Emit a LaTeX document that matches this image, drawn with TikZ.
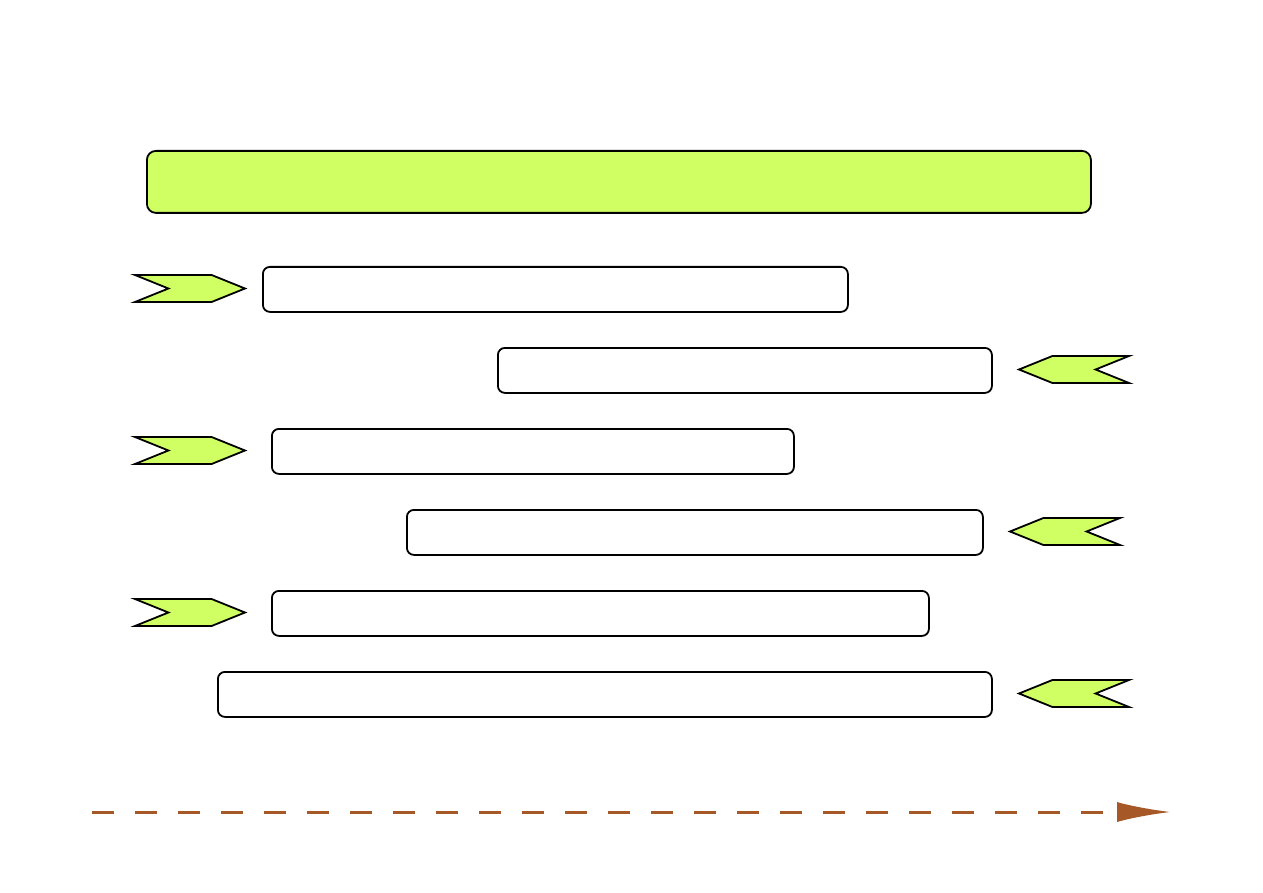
\documentclass[tikz,border=0pt]{standalone}
\usetikzlibrary{shapes.symbols,arrows.meta}
\definecolor{lime}{RGB}{207,255,99}
\definecolor{rust}{RGB}{166,88,38}
\tikzset{
  bar/.style={draw=black, line width=1.8pt, rounded corners=7pt, fill=white, inner sep=0pt, anchor=north west},
  headbar/.style={bar, fill=lime, rounded corners=9pt},
  chevr/.style={signal, signal from=west, signal to=east, signal pointer angle=44, draw=black, line width=1.8pt, fill=lime, minimum width=110pt, minimum height=27pt, inner sep=0pt, anchor=center},
  chevl/.style={chevr, signal from=east, signal to=west},
  timeline/.style={draw=rust, line width=3pt, dash pattern=on 22pt off 21pt, -{Latex[length=54pt,width=20pt,fill=rust]}}
}
\begin{document}
\begin{tikzpicture}[x=1pt,y=-1pt]
\useasboundingbox (0,0) rectangle (1263,893);
\node[headbar, minimum width=944pt, minimum height=62pt] (head) at (146,150) {};
\node[bar, minimum width=585pt, minimum height=45pt] (b1) at (262,266) {};
\node[bar, minimum width=494pt, minimum height=45pt] (b2) at (497,347) {};
\node[bar, minimum width=522pt, minimum height=45pt] (b3) at (271,428) {};
\node[bar, minimum width=576pt, minimum height=45pt] (b4) at (406,509) {};
\node[bar, minimum width=657pt, minimum height=45pt] (b5) at (271,590) {};
\node[bar, minimum width=774pt, minimum height=45pt] (b6) at (217,671) {};
\node[chevr] (c1) at (190,288.5) {};
\node[chevl] (c2) at (1074,369.5) {};
\node[chevr] (c3) at (190,450.5) {};
\node[chevl] (c4) at (1065,531.5) {};
\node[chevr] (c5) at (190,612.5) {};
\node[chevl] (c6) at (1074,693.5) {};
\coordinate (t0) at (92,812);
\coordinate (t1) at (1171,812);
\draw[timeline] (t0) -- (t1);
\end{tikzpicture}
\end{document}
